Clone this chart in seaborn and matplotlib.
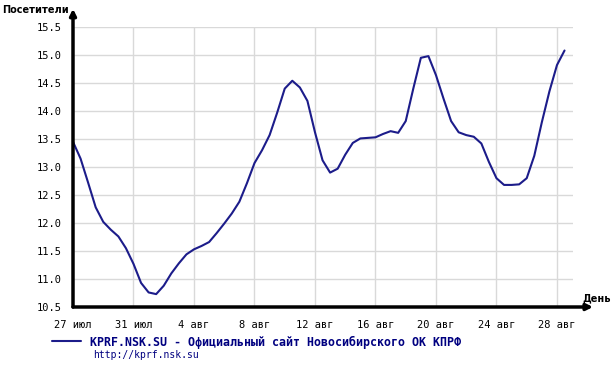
import matplotlib
matplotlib.use("Agg")
import matplotlib.pyplot as plt
import numpy as np
import pandas as pd
import seaborn as sns

# Посетители сайта, шаг 12 часов начиная с 27 июля
start = pd.Timestamp("2009-07-27")
visitors = [
    13.45, 13.15, 12.72, 12.28, 12.02, 11.88, 11.76, 11.55, 11.27, 10.93,
    10.76, 10.73, 10.88, 11.10, 11.28, 11.44, 11.53, 11.59, 11.66, 11.82,
    11.99, 12.17, 12.38, 12.71, 13.07, 13.30, 13.57, 13.97, 14.40, 14.54,
    14.42, 14.18, 13.62, 13.12, 12.90, 12.97, 13.22, 13.43, 13.51, 13.52,
    13.53, 13.59, 13.64, 13.61, 13.82, 14.40, 14.95, 14.98, 14.64, 14.22,
    13.82, 13.62, 13.57, 13.54, 13.42, 13.09, 12.80, 12.68, 12.68, 12.69,
    12.80, 13.20, 13.80, 14.35, 14.82, 15.08,
]
dates = pd.date_range(start, periods=len(visitors), freq="12h")
df = pd.DataFrame({"дата": dates, "посетители": visitors})

tick_dates = pd.date_range(start, periods=9, freq="4D")
tick_labels = ["27 июл", "31 июл", "4 авг", "8 авг", "12 авг",
               "16 авг", "20 авг", "24 авг", "28 авг"]
y_ticks = [10.5, 11.0, 11.5, 12.0, 12.5, 13.0, 13.5, 14.0, 14.5, 15.0, 15.5]

series_name = "KPRF.NSK.SU - Официальный сайт Новосибирского ОК КПРФ"
line_color = "#1c1c8a"
text_color = "#000080"

sns.set_style("white")
plt.rcParams["font.family"] = ["DejaVu Sans Mono", "DejaVu Sans"]

fig = plt.figure(figsize=(6.12, 3.65), dpi=100)
ax = fig.add_axes([73 / 612, 58 / 365, 500 / 612, 280 / 365])

sns.lineplot(data=df, x="дата", y="посетители", ax=ax, color=line_color,
             linewidth=1.5, label=series_name, legend=False)

ax.set_xlim(start, start + pd.Timedelta(days=33.06))
ax.set_ylim(10.5, 15.5)
ax.set_xticks(tick_dates)
ax.set_xticklabels(tick_labels)
ax.set_yticks(y_ticks)
ax.set_yticklabels([f"{v:.1f}" for v in y_ticks])
ax.tick_params(axis="both", direction="out", length=5, width=1.5,
               color="black", labelcolor="black", labelsize=7.5, pad=3)
ax.tick_params(axis="x", pad=4)
ax.grid(True, color="#d9d9d9", linewidth=1)
ax.set_xlabel("")
ax.set_ylabel("")
for s in ax.spines.values():
    s.set_visible(False)

# оси со стрелками
arrow = dict(arrowstyle="-|>", lw=2.5, color="black", mutation_scale=9,
             shrinkA=0, shrinkB=0)
ax.annotate("", xy=(0, 1.065), xytext=(0, 0), xycoords="axes fraction",
            arrowprops=arrow, annotation_clip=False)
ax.annotate("", xy=(1.04, 0), xytext=(0, 0), xycoords="axes fraction",
            arrowprops=arrow, annotation_clip=False)

fig.text(69 / 612, 1 - 10 / 365, "Посетители", ha="right", va="center",
         fontsize=7, fontweight="bold", family="DejaVu Sans", color="black")
fig.text(582 / 612, 1 - 298 / 365, "День", ha="left", va="center",
         fontsize=7, fontweight="bold", family="DejaVu Sans", color="black")

# подпись серии
leg = fig.legend(loc="center left", bbox_to_anchor=(52 / 612, 1 - 342 / 365),
                 frameon=False, borderpad=0, borderaxespad=0,
                 handlelength=2.5, handletextpad=0.8,
                 prop={"size": 8.4, "weight": "bold", "family": "DejaVu Sans Mono"})
for t in leg.get_texts():
    t.set_color(text_color)
fig.text(93 / 612, 1 - 355 / 365, "http://kprf.nsk.su", ha="left",
         va="center", fontsize=7, color=text_color)

fig.savefig("out.png", dpi=100)
